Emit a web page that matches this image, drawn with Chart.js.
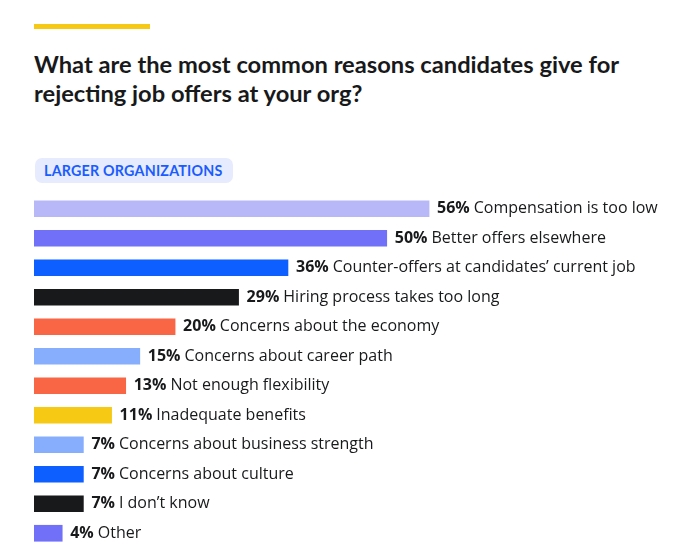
<!DOCTYPE html>
<html>
<head>
<meta charset="utf-8">
<script src="https://cdn.jsdelivr.net/npm/chart.js@4"></script>
<style>
  html, body { margin: 0; padding: 0; background: #fff; }
  body { width: 676px; height: 559px; position: relative; overflow: hidden; font-family: 'Lato', sans-serif; }
  .rule { position: absolute; left: 34px; top: 24px; width: 116px; height: 5px; background: #f5c914; }
  h1 { position: absolute; left: 34px; top: 50px; margin: 0; width: 620px;
       font-size: 23.7px; line-height: 29px; font-weight: 700; color: #18191b; }
  .badge { position: absolute; left: 35px; top: 158px; height: 25px; padding: 0 10px 0 9px;
           background: #e6ecfd; border-radius: 7px; color: #1a5cff; font-weight: 700;
           font-size: 14.3px; line-height: 25px; letter-spacing: 0.2px; }
  .wrap { position: absolute; left: 0; top: 0; width: 676px; height: 559px; }
</style>
</head>
<body>
<div class="rule"></div>
<h1>What are the most common reasons candidates give for rejecting job offers at your org?</h1>
<div class="badge">LARGER ORGANIZATIONS</div>
<div class="wrap"><canvas id="reasonsChart"></canvas></div>
<script>
// Survey answers, larger organizations
const reasons = [
  'Compensation is too low',
  'Better offers elsewhere',
  'Counter-offers at candidates\u2019 current job',
  'Hiring process takes too long',
  'Concerns about the economy',
  'Concerns about career path',
  'Not enough flexibility',
  'Inadequate benefits',
  'Concerns about business strength',
  'Concerns about culture',
  'I don\u2019t know',
  'Other'
];
const shares = [56, 50, 36, 29, 20, 15, 13, 11, 7, 7, 7, 4];
const barColors = [
  '#b8b8f8', '#7170f8', '#0d5fff', '#18191b', '#f96645', '#87aefc',
  '#f96645', '#f5c914', '#87aefc', '#0d5fff', '#18191b', '#7170f8'
];

const FONT = '"Open Sans", sans-serif';

// writes "56% Compensation is too low" after each bar
const barLabels = {
  id: 'barLabels',
  afterDatasetsDraw(chart) {
    const ctx = chart.ctx;
    const meta = chart.getDatasetMeta(0);
    ctx.save();
    ctx.textBaseline = 'middle';
    ctx.fillStyle = '#18191b';
    meta.data.forEach((bar, i) => {
      let x = bar.x + 8;
      const y = bar.y;
      ctx.font = `700 16px ${FONT}`;
      const pct = shares[i] + '%';
      ctx.fillText(pct, x, y);
      x += ctx.measureText(pct).width + 4;
      ctx.font = `400 16px ${FONT}`;
      ctx.fillText(reasons[i], x, y);
    });
    ctx.restore();
  }
};

new Chart(document.getElementById('reasonsChart'), {
  type: 'bar',
  data: {
    labels: reasons,
    datasets: [{
      data: shares,
      backgroundColor: barColors,
      borderWidth: 0,
      barThickness: 16,
    }]
  },
  options: {
    indexAxis: 'y',
    responsive: true,
    maintainAspectRatio: false,
    animation: false,
    layout: { padding: { left: 34, right: 0, top: 194, bottom: 11 } },
    plugins: { legend: { display: false }, tooltip: { enabled: false } },
    scales: {
      x: { display: false, min: 0, max: 91 },
      y: { display: false }
    }
  },
  plugins: [barLabels]
});
</script>
</body>
</html>
